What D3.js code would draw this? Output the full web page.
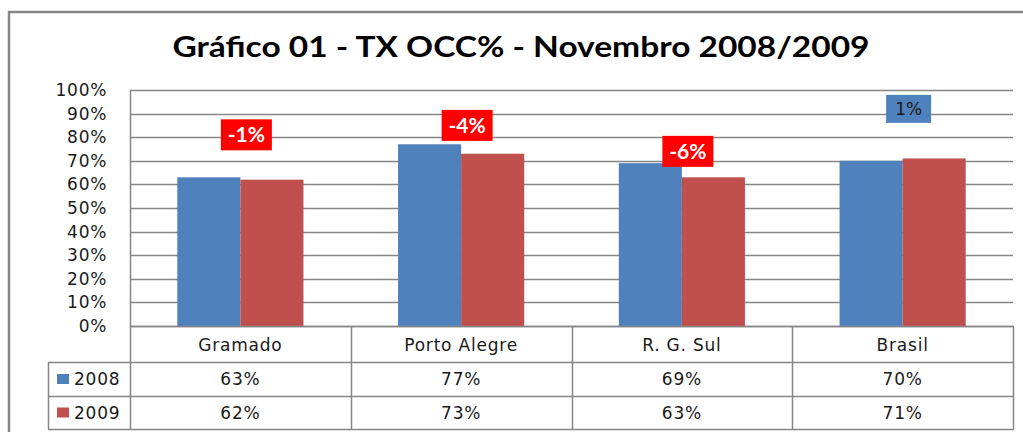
<!DOCTYPE html>
<html>
<head>
<meta charset="utf-8">
<script src="https://cdn.jsdelivr.net/npm/d3@7"></script>
<style>
  body { margin: 0; background: #fff; }
  svg { display: block; }
</style>
</head>
<body>
<div id="chart"></div>
<script>
// data
const categories = ["Gramado", "Porto Alegre", "R. G. Sul", "Brasil"];
const seriesNames = ["2008", "2009"];
const values2008 = [0.63, 0.77, 0.69, 0.70];
const values2009 = [0.62, 0.73, 0.63, 0.71];
const changeLabels = ["-1%", "-4%", "-6%", "1%"];
const changeLevel = [0.81, 0.85, 0.74, 0.92];   // where the change boxes sit, in axis units
const yTicks = [0, 0.1, 0.2, 0.3, 0.4, 0.5, 0.6, 0.7, 0.8, 0.9, 1.0];

const colors = { "2008": "#4F81BD", "2009": "#C0504D" };
const gridColor = "#868686";
const font = "'DejaVu Sans', Verdana, sans-serif";
const textColor = "#1a1a1a";

let width = 1023, height = 432;
let svg = d3.select("#chart").append("svg")
    .attr("width", width)
    .attr("height", height);

// outer frame, runs off the right and bottom
svg.append("rect")
    .attr("x", 9).attr("y", 12)
    .attr("width", 1040).attr("height", 460)
    .attr("fill", "none")
    .attr("stroke", gridColor)
    .attr("stroke-width", 2.5);

// title
svg.append("text")
    .attr("x", 521).attr("y", 57)
    .attr("text-anchor", "middle")
    .attr("font-family", "Lato, 'Open Sans', sans-serif")
    .attr("font-weight", "bold")
    .attr("font-size", 29)
    .attr("textLength", 697)
    .attr("lengthAdjust", "spacingAndGlyphs")
    .text("Gráfico 01 - TX OCC% - Novembro 2008/2009");

let plot = { left: 130, right: 1013, top: 90, bottom: 326 };

let y = d3.scaleLinear().domain([0, 1]).range([plot.bottom, plot.top]);
let x0 = d3.scaleBand().domain(categories).range([plot.left, plot.right]).padding(0);
let bw = x0.bandwidth();
let barW = bw / 3.5;  // gap width 150%
let x1 = d3.scaleBand().domain(seriesNames).range([barW * 0.75, bw - barW * 0.75]).padding(0);

// gridlines
svg.append("g").selectAll("line")
    .data(yTicks)
    .join("line")
    .attr("x1", plot.left).attr("x2", plot.right)
    .attr("y1", d => Math.round(y(d)) + 0.5).attr("y2", d => Math.round(y(d)) + 0.5)
    .attr("stroke", gridColor)
    .attr("stroke-width", 1.3);

// y axis labels
let yAxis = svg.append("g")
    .attr("transform", "translate(" + plot.left + ",0)")
    .call(d3.axisLeft(y).tickValues(yTicks).tickFormat(d3.format(".0%")).tickSize(0).tickPadding(23));
yAxis.select(".domain").remove();
yAxis.selectAll("text")
    .attr("font-family", font)
    .attr("font-size", 17)
    .attr("letter-spacing", 0.7)
    .attr("fill", textColor);

// bars
let rows = categories.map((c, i) => ({ cat: c, "2008": values2008[i], "2009": values2009[i] }));

svg.append("g").selectAll("g")
    .data(rows)
    .join("g")
    .attr("transform", d => "translate(" + x0(d.cat) + ",0)")
    .selectAll("rect")
    .data(d => seriesNames.map(s => ({ s: s, v: d[s] })))
    .join("rect")
    .attr("x", d => x1(d.s))
    .attr("width", x1.bandwidth())
    .attr("y", d => y(d.v))
    .attr("height", d => y(0) - y(d.v))
    .attr("fill", d => colors[d.s]);

// change boxes
let boxes = svg.append("g").selectAll("g")
    .data(categories.map((c, i) => ({ cat: c, label: changeLabels[i], level: changeLevel[i] })))
    .join("g")
    .attr("transform", d => "translate(" + (x0(d.cat) + bw / 2 + 6) + "," + y(d.level) + ")");

boxes.each(function (d) {
    let g = d3.select(this);
    let neg = d.label.startsWith("-");
    let w = neg ? 51 : 45, h = neg ? 31 : 28;
    g.append("rect")
        .attr("x", -w / 2).attr("y", -h / 2)
        .attr("width", w).attr("height", h)
        .attr("fill", neg ? "#FF0000" : "#4F81BD");
    g.append("text")
        .attr("text-anchor", "middle")
        .attr("dy", "0.36em")
        .attr("font-family", neg ? "Lato, 'Open Sans', sans-serif" : font)
        .attr("font-weight", neg ? "bold" : "normal")
        .attr("font-size", neg ? 21 : 17)
        .attr("fill", neg ? "#fff" : textColor)
        .text(d.label);
});

// data table under the plot
let table = { legendLeft: 48, header: [326, 362], row1: [362, 396], row2: [396, 429] };
let tg = svg.append("g");
let lineStyle = sel => sel.attr("stroke", gridColor).attr("stroke-width", 1.5).attr("fill", "none");

// horizontal lines
tg.append("line").attr("x1", plot.left).attr("x2", plot.right + 1).attr("y1", table.header[0] + 0.5).attr("y2", table.header[0] + 0.5).call(lineStyle);
[table.row1[0], table.row2[0], table.row2[1]].forEach(yy => {
    tg.append("line").attr("x1", table.legendLeft).attr("x2", plot.right + 1).attr("y1", yy + 0.5).attr("y2", yy + 0.5).call(lineStyle);
});
// vertical lines
tg.append("line").attr("x1", table.legendLeft + 0.5).attr("x2", table.legendLeft + 0.5).attr("y1", table.row1[0]).attr("y2", table.row2[1]).call(lineStyle);
tg.append("line").attr("x1", plot.left + 0.5).attr("x2", plot.left + 0.5).attr("y1", plot.top).attr("y2", table.row2[1]).call(lineStyle);
categories.forEach(c => {
    let xx = Math.round(x0(c) + bw) + 0.5;
    tg.append("line").attr("x1", xx).attr("x2", xx).attr("y1", table.header[0]).attr("y2", table.row2[1]).call(lineStyle);
});

let cellText = (x, yy, t, anchor) => tg.append("text")
    .attr("x", x).attr("y", yy)
    .attr("text-anchor", anchor || "middle")
    .attr("dy", "0.36em")
    .attr("font-family", font)
    .attr("font-size", 17)
    .attr("letter-spacing", 0.8)
    .attr("fill", textColor)
    .text(t);

categories.forEach((c, i) => {
    let cx = x0(c) + bw / 2;
    cellText(cx, (table.header[0] + table.header[1]) / 2 + 1, c);
    cellText(cx, (table.row1[0] + table.row1[1]) / 2, d3.format(".0%")(values2008[i]));
    cellText(cx, (table.row2[0] + table.row2[1]) / 2, d3.format(".0%")(values2009[i]));
});

// legend keys in the table
[[seriesNames[0], table.row1], [seriesNames[1], table.row2]].forEach(([s, r]) => {
    let cy = (r[0] + r[1]) / 2;
    tg.append("rect").attr("x", 57).attr("y", cy - 5).attr("width", 12).attr("height", 10).attr("fill", colors[s]);
    cellText(74, cy, s, "start");
});
</script>
</body>
</html>
